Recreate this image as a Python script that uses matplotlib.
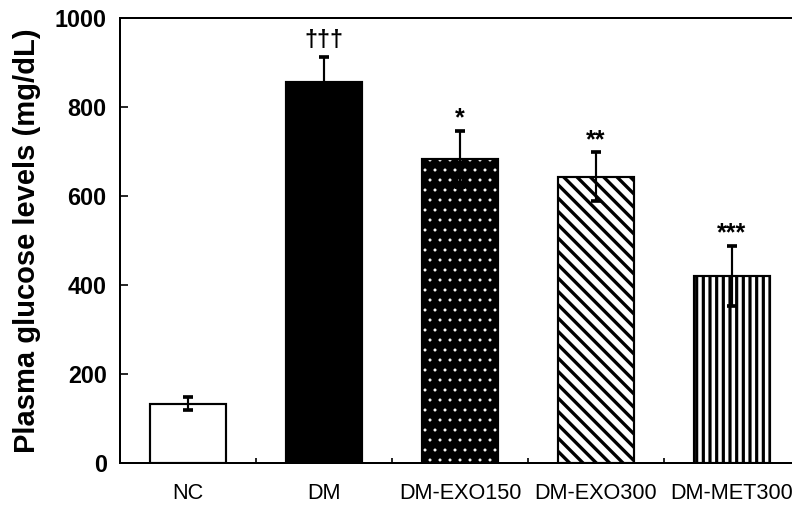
import numpy as np
import matplotlib
matplotlib.use("Agg")
import matplotlib.pyplot as plt

# group means and SD of plasma glucose (mg/dL)
groups = ["NC", "DM", "DM-EXO150", "DM-EXO300", "DM-MET300"]
glucose = [133, 856, 683, 643, 420]
glucose_sd = [15, 56, 63, 55, 68]
marks = ["", "\u2020\u2020\u2020", "*", "**", "***"]

narrow = ["Liberation Sans Narrow", "Liberation Sans", "DejaVu Sans"]

fig = plt.figure(figsize=(6.6, 506 / 120), dpi=120)
ax = fig.add_axes([120 / 792, 1 - 463 / 506, 680 / 792, 445 / 506])

x = np.arange(len(groups))
w = 0.56
lw = 1.3

# NC: plain white
ax.bar(x[0], glucose[0], w, color="white", edgecolor="black", linewidth=lw, zorder=2)
# DM: solid black
ax.bar(x[1], glucose[1], w, color="black", edgecolor="black", linewidth=lw, zorder=2)
# DM-EXO150: white dots on black
dots = ax.bar(x[2], glucose[2], w, color="black", edgecolor="white", linewidth=0,
              hatch="..", zorder=2)
for p in dots:
    if hasattr(p, "set_hatch_linewidth"):
        p.set_hatch_linewidth(0.6)
ax.bar(x[2], glucose[2], w, fill=False, edgecolor="black", linewidth=lw, zorder=2.1)
# DM-EXO300: diagonal stripes
diag = ax.bar(x[3], glucose[3], w, color="white", edgecolor="black", linewidth=lw,
              hatch="\\\\\\", zorder=2)
for p in diag:
    if hasattr(p, "set_hatch_linewidth"):
        p.set_hatch_linewidth(2.0)
# DM-MET300: vertical stripes
vert = ax.bar(x[4], glucose[4], w, color="white", edgecolor="black", linewidth=lw,
              hatch="|||", zorder=2)
for p in vert:
    if hasattr(p, "set_hatch_linewidth"):
        p.set_hatch_linewidth(1.9)

ax.errorbar(x, glucose, yerr=glucose_sd, fmt="none", ecolor="black",
            elinewidth=1.3, capsize=2.8, capthick=2.2, zorder=3)

# significance marks above the error bars
for xi, v, s, m in zip(x, glucose, glucose_sd, marks):
    if not m:
        continue
    if m.startswith("*"):
        ax.text(xi, v + s + 1, m, ha="center", va="bottom", fontsize=15,
                fontweight="bold", family=narrow)
    else:
        ax.text(xi, v + s + 12, m, ha="center", va="bottom", fontsize=14,
                fontweight="bold", family=narrow)

ax.set_xlim(-0.5, 4.5)
ax.set_ylim(0, 1000)
ax.set_yticks(np.arange(0, 1001, 200))
ax.set_yticklabels([str(v) for v in range(0, 1001, 200)], fontsize=14,
                   fontweight="bold", family=narrow)
ax.set_xticks(x)
ax.set_xticklabels(groups, fontsize=13, family=narrow)
ax.set_xticks(x[:-1] + 0.5, minor=True)
ax.tick_params(axis="x", which="major", length=0, pad=12)
ax.tick_params(axis="x", which="minor", direction="in", length=3, width=1)
ax.tick_params(axis="y", direction="in", length=5, width=1, pad=8)

ax.set_ylabel("Plasma glucose levels (mg/dL)", fontsize=17.5, fontweight="bold",
              family=["Liberation Sans", "DejaVu Sans"], labelpad=8)

for side in ["left", "top", "bottom", "right"]:
    ax.spines[side].set_linewidth(1.2)

fig.savefig("out.png", dpi=120)
